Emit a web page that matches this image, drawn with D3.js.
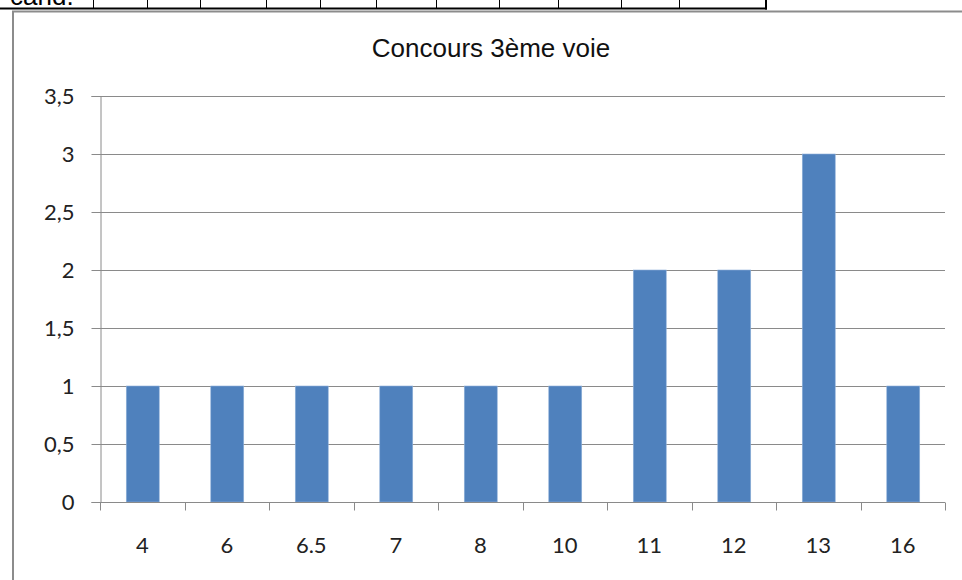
<!DOCTYPE html>
<html>
<head>
<meta charset="utf-8">
<script src="https://cdn.jsdelivr.net/npm/d3@7"></script>
<style>
  html, body { margin: 0; padding: 0; background: #fff; }
  svg { display: block; }
</style>
</head>
<body>
<svg id="chart" width="962" height="580"></svg>
<script>
const categories = ["4", "6", "6.5", "7", "8", "10", "11", "12", "13", "16"];
const values = [1, 1, 1, 1, 1, 1, 2, 2, 3, 1];
const yTicks = [0, 0.5, 1, 1.5, 2, 2.5, 3, 3.5];
const title = "Concours 3ème voie";
const tableLabel = "cand.";
const tableCellEdges = [93, 147, 200, 266, 320, 376, 436, 499, 558, 621, 679];

(function () {
const svg = d3.select("#chart");

// table fragment at the top
svg.append("text").attr("x", 10).attr("y", 5)
  .attr("font-family", "Arial, 'Liberation Sans', sans-serif").attr("font-size", 26)
  .attr("fill", "#000").text(tableLabel);
svg.selectAll("line.cell").data(tableCellEdges).join("line")
  .attr("x1", d => d + 0.5).attr("x2", d => d + 0.5).attr("y1", 0).attr("y2", 8)
  .attr("stroke", "#000").attr("stroke-width", 1);
svg.append("line").attr("x1", 766).attr("x2", 766).attr("y1", 0).attr("y2", 9.5)
  .attr("stroke", "#000").attr("stroke-width", 2);
svg.append("line").attr("x1", 0).attr("x2", 767).attr("y1", 8.5).attr("y2", 8.5)
  .attr("stroke", "#000").attr("stroke-width", 2);

// chart frame
svg.append("path").attr("d", "M13,580 L13,11.5 L962,11.5")
  .attr("fill", "none").attr("stroke", "#8c8c8c").attr("stroke-width", 2);

const mLeft = 100, mRight = 945, mTop = 96, mBottom = 502;

const x = d3.scaleBand().domain(categories).range([mLeft, mRight]).padding(0);
const y = d3.scaleLinear().domain([0, 3.5]).range([mBottom, mTop]);

// gridlines
svg.append("g").selectAll("line").data(yTicks.filter(d => d > 0)).join("line")
  .attr("x1", mLeft).attr("x2", mRight)
  .attr("y1", d => Math.round(y(d)) + 0.5).attr("y2", d => Math.round(y(d)) + 0.5)
  .attr("stroke", "#8a8a8a").attr("stroke-width", 1);

// bars
const bw = x.bandwidth() * 0.39;
svg.append("g").selectAll("rect").data(values).join("rect")
  .attr("x", (d, i) => x(categories[i]) + x.bandwidth() / 2 - bw / 2 + 0.5)
  .attr("y", d => y(d))
  .attr("width", bw)
  .attr("height", d => mBottom - y(d))
  .attr("fill", "#4f81bd")
  .attr("stroke", "#8fb0d9").attr("stroke-width", 0.6);

const labelFont = "Lato, 'Open Sans', sans-serif";

// y axis
const yAxis = d3.axisLeft(y).tickValues(yTicks).tickSize(9).tickPadding(17)
  .tickFormat(d => String(d).replace(".", ","));
const gy = svg.append("g").attr("transform", `translate(${mLeft + 0.5},0)`).call(yAxis);
gy.select(".domain").attr("stroke", "#8a8a8a");
gy.selectAll(".tick line").attr("stroke", "#8a8a8a");
gy.selectAll(".tick").attr("transform", d => `translate(0,${Math.round(y(d)) + 0.5})`);
gy.selectAll("text").attr("font-family", labelFont)
  .attr("font-size", 22).attr("fill", "#222");

// x axis
const xAxis = d3.axisBottom(x).tickSize(0).tickPadding(35);
const gx = svg.append("g").attr("transform", `translate(0,${mBottom + 0.5})`).call(xAxis);
gx.select(".domain").attr("stroke", "#8a8a8a").attr("d", `M${mLeft},0H${mRight}`);
gx.selectAll("text").attr("font-family", labelFont)
  .attr("font-size", 22).attr("fill", "#222");
const boundaries = categories.map(c => x(c)).concat([mRight]);
gx.append("g").selectAll("line").data(boundaries).join("line")
  .attr("x1", d => Math.round(d) + 0.5).attr("x2", d => Math.round(d) + 0.5)
  .attr("y1", 0).attr("y2", 8).attr("stroke", "#8a8a8a");

// title
svg.append("text").attr("x", 491).attr("y", 57).attr("text-anchor", "middle")
  .attr("font-family", "Arial, 'Liberation Sans', sans-serif").attr("font-size", 26)
  .attr("fill", "#111").text(title);
})();
</script>
</body>
</html>
